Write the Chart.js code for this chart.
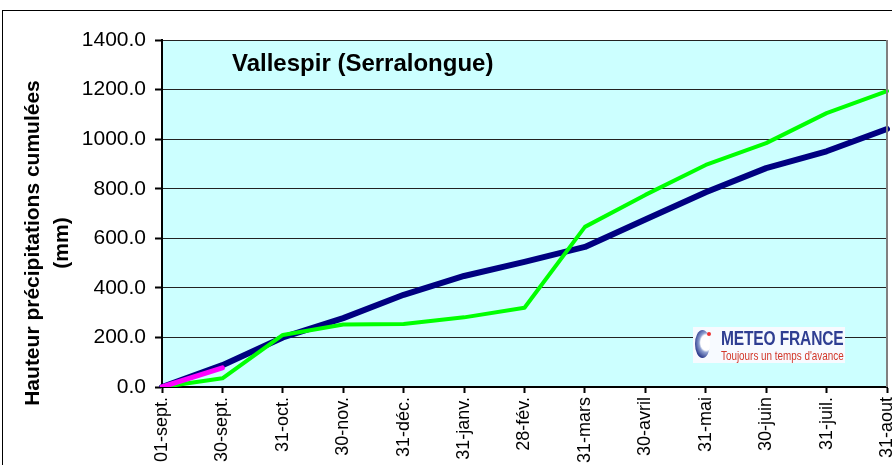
<!DOCTYPE html>
<html lang="fr">
<head>
<meta charset="utf-8">
<script src="https://cdn.jsdelivr.net/npm/chart.js@4"></script>
<style>
  html,body{margin:0;padding:0;background:#fff;}
  #wrap{position:relative;width:892px;height:465px;overflow:hidden;font-family:"Liberation Sans",Arial,sans-serif;}
  #frame{position:absolute;left:2px;top:10px;width:1000px;height:1000px;border:1px solid #000;}
  canvas{position:absolute;left:0;top:0;}
  #ytitle{position:absolute;left:-154px;top:214px;width:400px;height:58px;line-height:29px;text-align:center;
    font-weight:bold;font-size:21px;color:#000;transform:rotate(-90deg);white-space:nowrap;}
  #ctitle{position:absolute;left:232px;top:49px;font-weight:bold;font-size:24px;line-height:28px;color:#000;white-space:nowrap;}
  #logo{position:absolute;left:693px;top:327px;width:152px;height:36px;background:#f7faff;}
  #logo .ico{position:absolute;left:2px;top:3px;width:15px;height:28px;border-radius:50%;
    background:radial-gradient(ellipse at 75% 45%,#fff 0 35%,#8fa0d0 45%,#2b3a8c 75%);}
  #logo .dot{position:absolute;left:14px;top:5px;width:4px;height:4px;border-radius:50%;background:#e33;}
  #logo .m1{position:absolute;left:28px;top:0px;font-weight:bold;font-size:21px;line-height:21px;color:#2f3e92;
    transform:scaleX(0.74);transform-origin:0 0;white-space:nowrap;letter-spacing:-0.2px;}
  #logo .m2{position:absolute;left:28px;top:22px;font-size:13px;line-height:13px;color:#d2372a;
    transform:scaleX(0.76);transform-origin:0 0;white-space:nowrap;}
</style>
</head>
<body>
<div id="wrap">
  <div id="frame"></div>
  <canvas id="c" width="892" height="465"></canvas>
  <div id="ctitle">Vallespir (Serralongue)</div>
  <div id="ytitle">Hauteur précipitations cumulées<br>(mm)</div>
  <div id="logo"><div class="ico"></div><div class="dot"></div><div class="m1">METEO FRANCE</div><div class="m2">Toujours un temps d'avance</div></div>
</div>
<script>
// dates de fin de mois (cumul depuis le 1er septembre)
const labels=['01-sept.','30-sept.','31-oct.','30-nov.','31-déc.','31-janv.','28-fév.','31-mars','30-avril','31-mai','30-juin','31-juil.','31-aout'];
const normale=[0,88,200,278,372,448,505,565,676,786,883,951,1041];
const anneePrec=[0,35,210,252,254,281,320,646,775,896,984,1105,1194];
const anneeEnCours=[0,77,null,null,null,null,null,null,null,null,null,null,null];
const yTicks=[0,200,400,600,800,1000,1200,1400];

const FONT='"Liberation Sans", Arial, sans-serif';

const plotBg={
  id:'plotBg',
  beforeDraw(chart){
    const {ctx,chartArea:a}=chart;
    ctx.save();
    ctx.fillStyle='#CCFFFF';
    ctx.fillRect(a.left,a.top,a.right-a.left,a.bottom-a.top);
    ctx.restore();
  },
  afterDatasetsDraw(chart){
    const {ctx,chartArea:a}=chart;
    ctx.save();
    ctx.strokeStyle='#808080';
    ctx.lineWidth=2;
    ctx.beginPath();ctx.moveTo(a.right,a.top);ctx.lineTo(a.right,a.bottom);ctx.stroke();
    ctx.restore();
  }
};

function line(label,data,color,width,order){
  return {label,data,borderColor:color,backgroundColor:color,borderWidth:width,pointRadius:0,
    tension:0,fill:false,spanGaps:false,borderCapStyle:'round',borderJoinStyle:'round',order};
}

new Chart(document.getElementById('c'),{
  type:'line',
  data:{labels,datasets:[
    line('Normale',normale,'#000080',6,2),
    line('Année précédente',anneePrec,'#00FF00',4,1),
    line('Année en cours',anneeEnCours,'#FF00FF',5,0)
  ]},
  options:{
    responsive:false,
    animation:false,
    layout:{padding:{top:40,right:5,left:0,bottom:0}},
    plugins:{legend:{display:false},tooltip:{enabled:false}},
    scales:{
      x:{
        offset:false,
        grid:{drawOnChartArea:false,tickLength:6,tickColor:'#000',tickWidth:2},
        border:{color:'#000',width:2},
        ticks:{autoSkip:false,maxRotation:90,minRotation:90,padding:4,color:'#000',font:{family:FONT,size:18}},
        afterFit(s){s.height=78;s.paddingLeft=0;s.paddingRight=0;}
      },
      y:{
        min:0,max:1400,
        afterBuildTicks(s){s.ticks=yTicks.map(v=>({value:v}));},
        grid:{color:'#222',lineWidth:1,tickLength:7,tickColor:'#000',tickWidth:2},
        border:{color:'#000',width:2},
        ticks:{padding:9,color:'#000',font:{family:FONT,size:21},callback:v=>Number(v).toFixed(1)},
        afterFit(s){s.width=162;}
      }
    }
  },
  plugins:[plotBg]
});
</script>
</body>
</html>
